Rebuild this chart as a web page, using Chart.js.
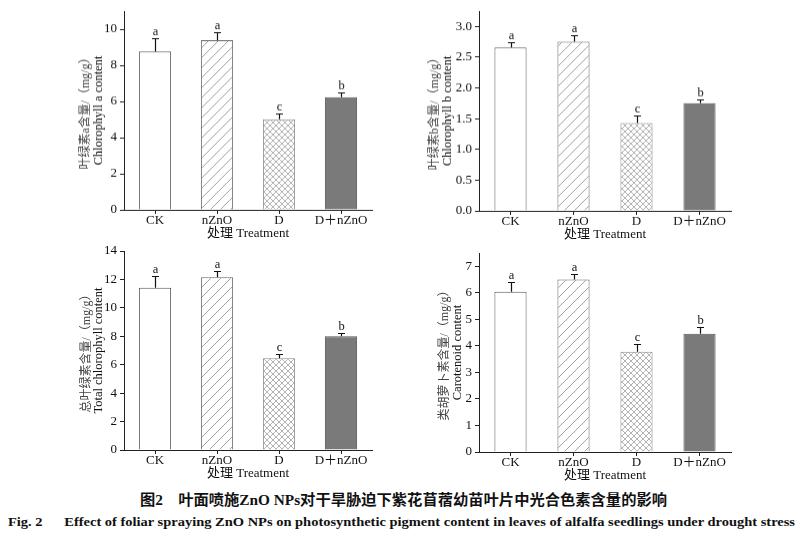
<!DOCTYPE html>
<html><head><meta charset="utf-8">
<script src="https://cdn.jsdelivr.net/npm/chart.js@4"></script>
<style>
html,body{margin:0;padding:0;background:#fff;width:805px;height:542px;overflow:hidden;position:relative}
.pane{position:absolute}
.cap{position:absolute;white-space:nowrap;font-weight:bold;color:#111;font-family:'Liberation Serif','Noto Sans CJK SC',serif;transform-origin:0 0}
</style></head><body>
<div class="pane" id="p1"><canvas id="c1"></canvas></div>
<div class="pane" id="p2"><canvas id="c2"></canvas></div>
<div class="pane" id="p3"><canvas id="c3"></canvas></div>
<div class="pane" id="p4"><canvas id="c4"></canvas></div>
<div class="cap" id="capCn" style="left:140px;top:491px;font-size:14.5px;line-height:18px">图2&#x2003;叶面喷施ZnO NPs对干旱胁迫下紫花苜蓿幼苗叶片中光合色素含量的影响</div>
<div class="cap" id="capEn" style="left:8px;top:514px;font-size:13.5px;line-height:16px">Fig. 2&#x2003;&#x2002;Effect of foliar spraying ZnO NPs on photosynthetic pigment content in leaves of alfalfa seedlings under drought stress</div>
<script>
// ---- data ----
const categories = ['CK', 'nZnO', 'D', 'D＋nZnO'];
const sigLetters = ['a', 'a', 'c', 'b'];

const chlA = [8.76, 9.39, 5.02, 6.24];
const chlASE = [0.74, 0.46, 0.33, 0.27];
const chlATicks = [0, 2, 4, 6, 8, 10];

const chlB = [2.66, 2.75, 1.43, 1.75];
const chlBSE = [0.09, 0.10, 0.115, 0.07];
const chlBTicks = [0, 0.5, 1.0, 1.5, 2.0, 2.5, 3.0];

const totalChl = [11.42, 12.15, 6.45, 8.00];
const totalChlSE = [0.82, 0.42, 0.28, 0.21];
const totalChlTicks = [0, 2, 4, 6, 8, 10, 12, 14];

const carotenoid = [6.04, 6.50, 3.78, 4.46];
const carotenoidSE = [0.35, 0.19, 0.30, 0.24];
const carotenoidTicks = [0, 1, 2, 3, 4, 5, 6, 7];

const xTitle = '处理 Treatment';

// ---- styles ----
const SERIF = "'Liberation Serif','Noto Sans CJK SC',serif";
const YW = 124, PT = 12, PR = 10, XH = 31;

function makePattern(kind) {
  const c = document.createElement('canvas');
  const s = kind === 'diag' ? 10 : 6;
  c.width = s; c.height = s;
  const g = c.getContext('2d');
  g.fillStyle = '#fff'; g.fillRect(0, 0, s, s);
  g.strokeStyle = kind === 'diag' ? '#8a8a8a' : '#a0a0a0';
  g.lineWidth = 0.8;
  g.beginPath();
  g.moveTo(0, s); g.lineTo(s, 0);
  g.moveTo(-1, 1); g.lineTo(1, -1);
  g.moveTo(s - 1, s + 1); g.lineTo(s + 1, s - 1);
  if (kind === 'cross') {
    g.moveTo(0, 0); g.lineTo(s, s);
    g.moveTo(-1, s - 1); g.lineTo(1, s + 1);
    g.moveTo(s - 1, -1); g.lineTo(s + 1, 1);
  }
  g.stroke();
  return g.createPattern(c, 'repeat');
}

function makeChart(id, paneId, cfg) {
  const a = cfg.area;
  const w = YW + (a.right - a.left) + PR;
  const h = PT + (a.bottom - a.top) + XH;
  const pane = document.getElementById(paneId);
  pane.style.left = (a.left - YW) + 'px';
  pane.style.top = (a.top - PT) + 'px';
  const cv = document.getElementById(id);
  cv.width = w; cv.height = h;
  cv.style.width = w + 'px'; cv.style.height = h + 'px';
  const ctx = cv.getContext('2d');
  const fills = ['#ffffff', makePattern('diag'), makePattern('cross'), '#7a7a7a'];
  const borders = ['#555', '#666', '#8a8a8a', '#555'];

  const deco = {
    id: 'deco' + id,
    afterDatasetsDraw(chart) {
      const c = chart.ctx, ca = chart.chartArea, x = chart.scales.x, y = chart.scales.y;
      c.save();
      c.strokeStyle = '#111'; c.lineWidth = 1.2;
      c.fillStyle = '#111';
      c.font = '12.5px ' + SERIF; c.textAlign = 'center'; c.textBaseline = 'alphabetic';
      cfg.values.forEach((v, i) => {
        const cx = Math.round(x.getPixelForValue(i)) + 0.5;
        const y0 = y.getPixelForValue(v), y1 = Math.round(y.getPixelForValue(v + cfg.se[i])) + 0.5;
        c.beginPath();
        c.moveTo(cx, y0); c.lineTo(cx, y1);
        c.moveTo(cx - 3.5, y1); c.lineTo(cx + 3.5, y1);
        c.stroke();
        c.fillText(sigLetters[i], cx, y1 - 4);
      });
      const cy = (ca.top + ca.bottom) / 2;
      c.textBaseline = 'middle';
      c.save();
      c.translate(ca.left + cfg.cnOff, cy); c.rotate(-Math.PI / 2);
      c.fillStyle = '#444'; c.font = '12px ' + SERIF;
      c.fillText(cfg.titleCn, 0, 0);
      c.restore();
      c.save();
      c.translate(ca.left + cfg.enOff, cy); c.rotate(-Math.PI / 2);
      c.fillStyle = '#111'; c.font = '12.5px ' + SERIF;
      c.fillText(cfg.titleEn, 0, 0);
      c.restore();
      c.restore();
    }
  };

  return new Chart(ctx, {
    type: 'bar',
    data: {
      labels: categories,
      datasets: [{
        data: cfg.values,
        backgroundColor: fills,
        borderColor: borders,
        borderWidth: 1,
        categoryPercentage: 1,
        barPercentage: cfg.barPct
      }]
    },
    options: {
      responsive: false,
      animation: false,
      devicePixelRatio: 1,
      layout: { padding: { top: PT, right: PR, left: 0, bottom: 0 } },
      plugins: { legend: { display: false }, tooltip: { enabled: false } },
      scales: {
        x: {
          grid: { display: true, drawOnChartArea: false, drawTicks: true, tickLength: 4, color: '#222', offset: false },
          border: { display: true, color: '#222', width: 1 },
          ticks: { font: { family: SERIF, size: 13 }, color: '#111', padding: -1, maxRotation: 0, autoSkip: false },
          title: { display: true, text: xTitle, font: { family: SERIF, size: 13 }, color: '#111', padding: 0 },
          afterFit(s) { s.height = XH; }
        },
        y: {
          min: 0, max: cfg.max,
          grid: { display: true, drawOnChartArea: false, drawTicks: true, tickLength: 4, color: '#222' },
          border: { display: true, color: '#222', width: 1 },
          ticks: { font: { family: SERIF, size: 13 }, color: '#111', padding: 3,
                   callback: v => Number(v).toFixed(cfg.dec) },
          afterBuildTicks(s) { s.ticks = cfg.ticks.map(v => ({ value: v })); },
          afterFit(s) { s.width = YW; }
        }
      }
    },
    plugins: [deco]
  });
}

makeChart('c1', 'p1', {
  values: chlA, se: chlASE, ticks: chlATicks, max: 11, dec: 0, barPct: 0.52,
  titleCn: '叶绿素a含量/（mg/g）', titleEn: 'Chlorophyll a content',
  area: { left: 124, right: 372, top: 11.2, bottom: 210 }, cnOff: -38, enOff: -25
});
makeChart('c2', 'p2', {
  values: chlB, se: chlBSE, ticks: chlBTicks, max: 3.25, dec: 1, barPct: 0.51,
  titleCn: '叶绿素b含量/（mg/g）', titleEn: 'Chlorophyll b content',
  area: { left: 479, right: 731, top: 11.4, bottom: 210.7 }, cnOff: -44, enOff: -31
});
makeChart('c3', 'p3', {
  values: totalChl, se: totalChlSE, ticks: totalChlTicks, max: 14, dec: 0, barPct: 0.52,
  titleCn: '总叶绿素含量/（mg/g）', titleEn: 'Total chlorophyll content',
  area: { left: 123.5, right: 371.5, top: 251, bottom: 450 }, cnOff: -37, enOff: -25
});
makeChart('c4', 'p4', {
  values: carotenoid, se: carotenoidSE, ticks: carotenoidTicks, max: 7.5, dec: 0, barPct: 0.51,
  titleCn: '类胡萝卜素含量/（mg/g）', titleEn: 'Carotenoid content',
  area: { left: 479, right: 731, top: 252.8, bottom: 452.3 }, cnOff: -34, enOff: -21
});

// fit captions to the reference widths
function fit(id, target) {
  const el = document.getElementById(id);
  const w = el.getBoundingClientRect().width;
  el.style.transform = 'scaleX(' + (target / w) + ')';
}
fit('capEn', 787);
fit('capCn', 527);
</script>
</body></html>
